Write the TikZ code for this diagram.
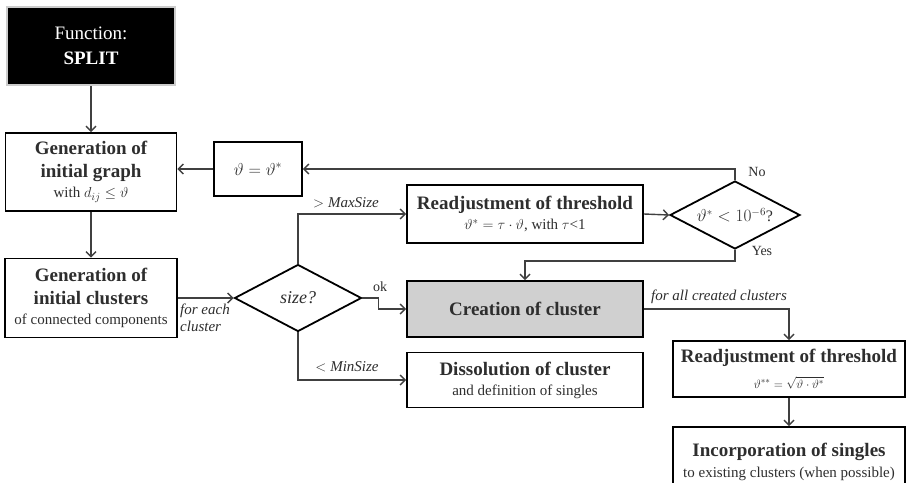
\documentclass[tikz,border=0pt]{standalone}
\usepackage{fontspec}
\setmainfont{Liberation Serif}
\usetikzlibrary{shapes.geometric,arrows.meta,calc}
\definecolor{txt}{HTML}{2E2E2E}
\definecolor{ln}{HTML}{404040}
\definecolor{boxfill}{HTML}{D0D0D0}
\tikzset{
  box/.style={draw=black, line width=1.8pt, fill=white, inner sep=0pt, align=center, text=txt, font=\fontsize{19}{23}\selectfont},
  dia/.style={shape=diamond, aspect=2, draw=black, line width=1.8pt, fill=white, inner sep=0pt, text=txt},
  conn/.style={draw=ln, line width=1.4pt, -{Straight Barb[length=5pt,width=10pt,line width=1.4pt]}},
  lbl/.style={text=txt, inner sep=0pt},
}
\newcommand{\ttlf}{\bfseries}
\newcommand{\subf}{\fontsize{15}{18}\selectfont}
\begin{document}
\begin{tikzpicture}[x=1pt,y=-1pt]
\useasboundingbox (0,0) rectangle (907,482);
\clip (0,0) rectangle (907,482);
\fill[white] (0,0) rectangle (907,482);

% nodes
\node[box, fill=black, draw=black!20, line width=2pt, text=white, minimum width=168, minimum height=78] (split) at (91,46)
  {Function:\\[2pt] \ttlf SPLIT};
\node[box, minimum width=171, minimum height=78] (graph) at (91,172)
  {\ttlf Generation of\\ \ttlf initial graph\\[-3pt] \subf with $d_{ij}\leq\vartheta$};
\node[box, minimum width=88, minimum height=54, font=\fontsize{18}{20}\selectfont] (theta) at (258,169)
  {$\vartheta = \vartheta^{*}$};
\node[box, minimum width=172, minimum height=79] (clusters) at (91,298)
  {\ttlf Generation of\\ \ttlf initial clusters\\[-3pt] \subf of connected components};
\node[dia, minimum width=127, minimum height=67, font=\fontsize{18}{20}\selectfont\itshape] (size) at (298,298)
  {size?};
\node[box, minimum width=236, minimum height=58] (readj) at (525,214)
  {\ttlf Readjustment of threshold\\[-3pt] \subf $\vartheta^{*} = \tau\cdot\vartheta$, with $\tau$<1};
\node[dia, minimum width=130, minimum height=68, font=\fontsize{16}{18}\selectfont] (thr) at (735,215)
  {$\vartheta^{*} < 10^{-6}$?};
\node[box, fill=boxfill, minimum width=236, minimum height=56] (create) at (525,309)
  {\ttlf Creation of cluster};
\node[box, minimum width=236, minimum height=55] (diss) at (525,380)
  {\ttlf Dissolution of cluster\\[-3pt] \subf and definition of singles};
\node[box, minimum width=232, minimum height=56] (readj2) at (789,369)
  {\ttlf Readjustment of threshold\\[3pt] \fontsize{13}{16}\selectfont $\vartheta^{**} = \sqrt{\vartheta\cdot\vartheta^{*}}$};
\node[box, minimum width=232, minimum height=70] (incorp) at (789,462)
  {\ttlf Incorporation of singles\\[-2pt] \subf to existing clusters (when possible)};

% connectors
\draw[conn] (split.south) -- (graph.north);
\draw[conn] (theta.west) -- (theta.west -| graph.east);
\draw[conn] (thr.north) |- (theta.east);
\draw[conn] (graph.south) -- (clusters.north);
\draw[conn] (clusters.east) -- (size.west);
\draw[conn] (size.north) |- (readj.west);
\draw[conn] (readj.east) -- (thr.west);
\coordinate (yesbend) at ($(thr.south)+(0,11)$);
\draw[conn] (thr.south) -- (yesbend) -| (create.north);
\coordinate (okbend) at ($(size.east)+(16,0)$);
\draw[conn] (size.east) -- (okbend) |- (create.west);
\draw[conn] (size.south) |- (diss.west);
\draw[conn] (create.east) -| (readj2.north);
\draw[conn] (readj2.south) -- (incorp.north);

% labels
\node[lbl, font=\fontsize{14}{16}\selectfont] (no) at (757,172) {No};
\node[lbl, font=\fontsize{14}{16}\selectfont] (yes) at (762,251) {Yes};
\node[lbl, font=\fontsize{14}{16}\selectfont] (ok) at (380,287) {ok};
\node[lbl, font=\fontsize{15}{17}\selectfont\itshape, align=left, anchor=north west] (foreach) at (180,304) {for each\\cluster};
\node[lbl, font=\fontsize{15}{17}\selectfont] (maxs) at (346,203) {$>\mathit{MaxSize}$};
\node[lbl, font=\fontsize{15}{17}\selectfont] (mins) at (347,367) {$<\mathit{MinSize}$};
\node[lbl, font=\fontsize{15}{17}\selectfont\itshape] (forall) at (719,297) {for all created clusters};
\end{tikzpicture}
\end{document}
